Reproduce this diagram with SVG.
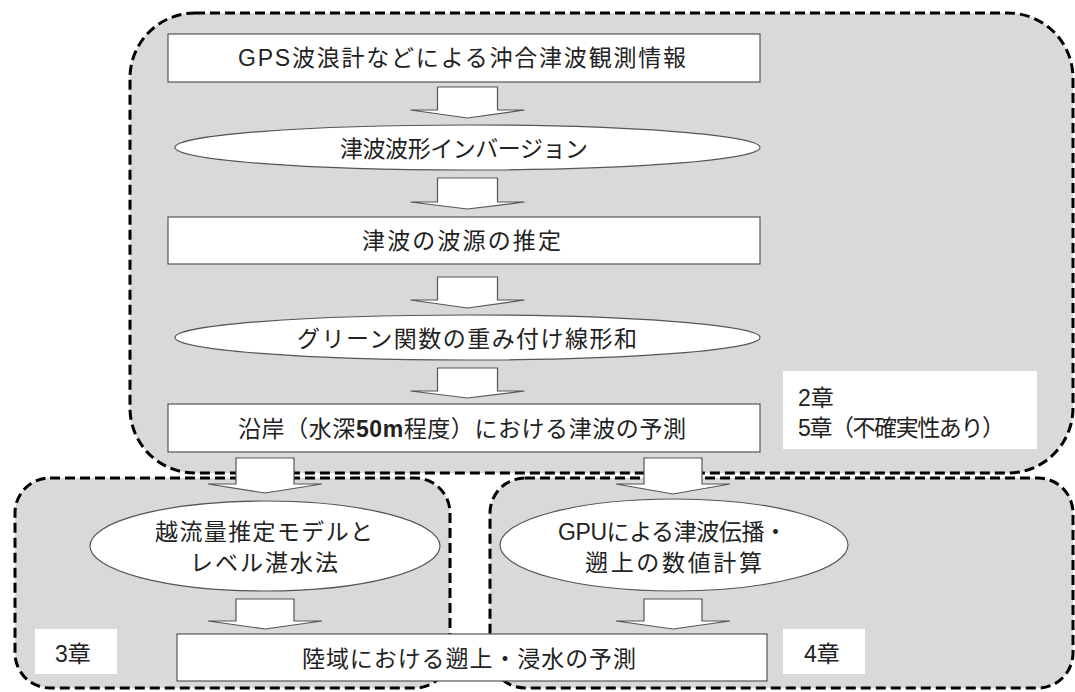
<svg xmlns="http://www.w3.org/2000/svg" width="1075" height="692" viewBox="0 0 1075 692">
<style>
.region{fill:#d9d9d9;stroke:#000;stroke-width:3;stroke-dasharray:10 5}
.box{fill:#fff;stroke:#555;stroke-width:1.2}
.ell{fill:#fff;stroke:#555;stroke-width:1.2}
.lbl{fill:#fff;stroke:none}
.arrow{fill:#fff;stroke:#555;stroke-width:1.2;stroke-linejoin:miter}
text{font-family:"Liberation Sans","Noto Sans CJK JP",sans-serif;font-size:23px;fill:#222}
.small{font-size:23px}
</style>
<rect width="1075" height="692" fill="#fff"/>
<g id="regions">
<rect id="region-top" class="region" x="130" y="13" width="943" height="460" rx="65" ry="65"/>
<rect id="region-left" class="region" x="15" y="478" width="435" height="210" rx="35" ry="35"/>
<rect id="region-right" class="region" x="490" y="478" width="583" height="210" rx="35" ry="35"/>
</g>
<g id="n1"><rect class="box" x="168" y="34" width="592" height="48"/><text x="238" y="66" textLength="448" lengthAdjust="spacing">GPS波浪計などによる沖合津波観測情報</text></g>
<g id="n2"><ellipse class="ell" cx="467.5" cy="147.5" rx="292.5" ry="22.5"/><text x="340" y="157" textLength="248" lengthAdjust="spacing">津波波形インバージョン</text></g>
<g id="n3"><rect class="box" x="168" y="217" width="592" height="47"/><text x="362" y="249" textLength="199" lengthAdjust="spacing">津波の波源の推定</text></g>
<g id="n4"><ellipse class="ell" cx="467.5" cy="337.5" rx="292.5" ry="22.5"/><text x="297" y="347" textLength="340" lengthAdjust="spacing">グリーン関数の重み付け線形和</text></g>
<g id="n5"><rect class="box" x="168" y="404" width="592" height="48"/><text x="238" y="437" textLength="448" lengthAdjust="spacing">沿岸（水深<tspan font-weight="bold">50m</tspan>程度）における津波の予測</text></g>
<g id="n6"><ellipse class="ell" cx="265" cy="546" rx="175" ry="45"/><text x="155" y="540" textLength="218" lengthAdjust="spacing">越流量推定モデルと</text><text x="190" y="571" textLength="148" lengthAdjust="spacing">レベル湛水法</text></g>
<g id="n7"><ellipse class="ell" cx="674" cy="545" rx="174" ry="46"/><text x="558" y="540" textLength="229" lengthAdjust="spacing">GPUによる津波伝播・</text><text x="585" y="571" textLength="177" lengthAdjust="spacing">遡上の数値計算</text></g>
<g id="n8"><rect class="box" x="177" y="634" width="590" height="47"/><text x="302" y="667" textLength="334" lengthAdjust="spacing">陸域における遡上・浸水の予測</text></g>
<g id="label-2-5"><rect class="lbl" x="783" y="371" width="254" height="78"/><text class="small" x="798" y="406">2章</text><text class="small" x="798" y="436" textLength="207" lengthAdjust="spacing">5章（不確実性あり）</text></g>
<g id="label-3"><rect class="lbl" x="35" y="629" width="82" height="45"/><text class="small" x="55" y="662">3章</text></g>
<g id="label-4"><rect class="lbl" x="783" y="629" width="82" height="45"/><text class="small" x="804" y="662">4章</text></g>
<g id="connectors">
<polygon class="arrow" points="437.5,87 497.5,87 497.5,110 524.5,110 467.5,118 410.5,110 437.5,110"/>
<polygon class="arrow" points="437.5,178 497.5,178 497.5,202 524.5,202 467.5,209 410.5,202 437.5,202"/>
<polygon class="arrow" points="437.5,277 497.5,277 497.5,300 524.5,300 467.5,308 410.5,300 437.5,300"/>
<polygon class="arrow" points="437.5,368 497.5,368 497.5,391 524.5,391 467.5,398 410.5,391 437.5,391"/>
<polygon class="arrow" points="236,458 294,458 294,484 322,484 265,493 208,484 236,484"/>
<polygon class="arrow" points="644,458 702,458 702,484 730,484 673,494 616,484 644,484"/>
<polygon class="arrow" points="236,599 294,599 294,621 322,621 265,629 208,621 236,621"/>
<polygon class="arrow" points="644,599 702,599 702,621 730,621 673,629 616,621 644,621"/>
</g>
</svg>
